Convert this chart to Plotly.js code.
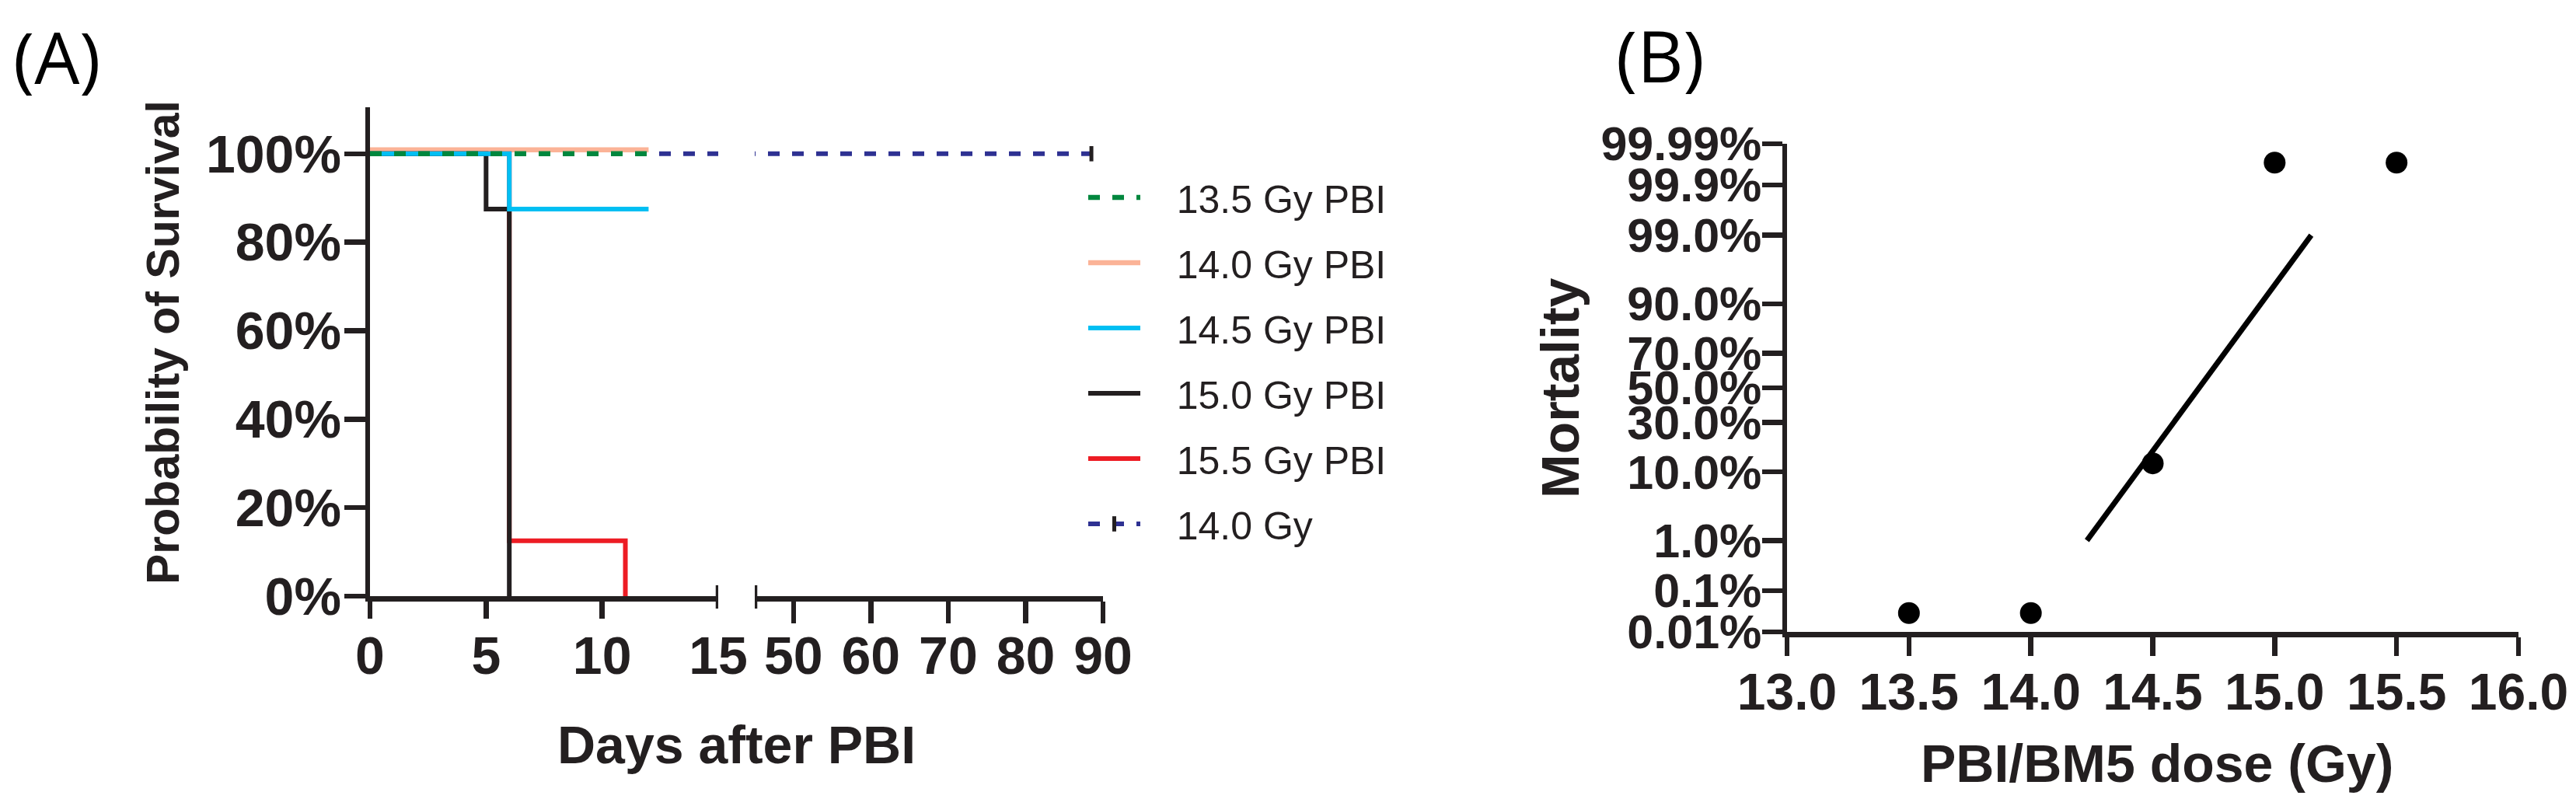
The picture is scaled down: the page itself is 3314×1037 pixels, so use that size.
<!DOCTYPE html>
<html>
<head>
<meta charset="utf-8">
<script src="https://cdn.plot.ly/plotly-3.0.1.min.js"></script>
<style>
    html, body { margin: 0; padding: 0; background: #fff; }
    #chart { width: 3314px; height: 1037px; }
</style>
</head>
<body>
<div id="chart"></div>
<script>
// Panel A: Kaplan-Meier survival after PBI (percent surviving by day)
const days135 = [0, 12];
const surv135 = [100, 100];
const days140 = [0, 12];
const surv140 = [100.9, 100.9];
const days145 = [0, 6, 12];
const surv145 = [100, 87.5, 87.5];
const days150 = [0, 5, 6];
const surv150 = [100, 87.5, 0];
const days155 = [0, 6, 11];
const surv155 = [100, 12.5, 0];
const days140tbi = [0, 88.5];
const surv140tbi = [100, 100];

const seriesNames = ['13.5 Gy PBI', '14.0 Gy PBI', '14.5 Gy PBI', '15.0 Gy PBI', '15.5 Gy PBI', '14.0 Gy'];

const daysTicksLeft = [0, 5, 10, 15];
const daysTickMarksLeft = [0, 5, 10];
const daysTicksRight = [50, 60, 70, 80, 90];
const survTicks = [0, 20, 40, 60, 80, 100];
const survTickText = ['0%', '20%', '40%', '60%', '80%', '100%'];

// Panel B: probit mortality vs dose
const dose = [13.5, 14.0, 14.5, 15.0, 15.5];
const mortality = [0.03, 0.03, 12.5, 99.97, 99.97];
const fitDose = [14.23, 15.15];
const fitMortality = [1.0, 99.0];
const doseTicks = [13.0, 13.5, 14.0, 14.5, 15.0, 15.5, 16.0];
const doseTickText = ['13.0', '13.5', '14.0', '14.5', '15.0', '15.5', '16.0'];
const mortTicks = [0.01, 0.1, 1, 10, 30, 50, 70, 90, 99, 99.9, 99.99];
const mortTickText = ['0.01%', '0.1%', '1.0%', '10.0%', '30.0%', '50.0%', '70.0%', '90.0%', '99.0%', '99.9%', '99.99%'];

// Inverse normal CDF (Acklam) for the probit axis
function probit(p) {
    const a = [-3.969683028665376e+01, 2.209460984245205e+02, -2.759285104469687e+02, 1.383577518672690e+02, -3.066479806614716e+01, 2.506628277459239e+00];
    const b = [-5.447609879822406e+01, 1.615858368580409e+02, -1.556989798598866e+02, 6.680131188771972e+01, -1.328068155288572e+01];
    const c = [-7.784894002430293e-03, -3.223964580411365e-01, -2.400758277161838e+00, -2.549671348193433e+00, 4.374664141464968e+00, 2.938163982698783e+00];
    const d = [7.784695709041462e-03, 3.224671290700398e-01, 2.445134137142996e+00, 3.754408661907416e+00];
    const plow = 0.02425;
    let q, r;
    if (p < plow) {
        q = Math.sqrt(-2 * Math.log(p));
        return (((((c[0] * q + c[1]) * q + c[2]) * q + c[3]) * q + c[4]) * q + c[5]) /
            ((((d[0] * q + d[1]) * q + d[2]) * q + d[3]) * q + 1);
    }
    if (p > 1 - plow) {
        q = Math.sqrt(-2 * Math.log(1 - p));
        return -(((((c[0] * q + c[1]) * q + c[2]) * q + c[3]) * q + c[4]) * q + c[5]) /
            ((((d[0] * q + d[1]) * q + d[2]) * q + d[3]) * q + 1);
    }
    q = p - 0.5;
    r = q * q;
    return (((((a[0] * r + a[1]) * r + a[2]) * r + a[3]) * r + a[4]) * r + a[5]) * q /
        (((((b[0] * r + b[1]) * r + b[2]) * r + b[3]) * r + b[4]) * r + 1);
}
const toProbit = pcts => pcts.map(v => probit(v / 100));

// Pixel -> paper helpers for a 3314x1037 canvas
const W = 3314, H = 1037;
const px = x => x / W;
const py = y => 1 - y / H;

const INK = '#231F20';
const SANS = 'Liberation Sans, Arial, sans-serif';
const boldFont = size => ({ family: SANS, size: size, color: INK, weight: 'bold' });
const DASH = '15px,16px';
const LEGEND_PAD = '\u00A0\u00A0\u00A0';   // gap between legend symbol and text

const data = [
    {   // 14.0 Gy, left segment (under everything)
        x: days140tbi, y: surv140tbi, xaxis: 'x', yaxis: 'y',
        type: 'scatter', mode: 'lines', name: LEGEND_PAD + seriesNames[5],
        line: { color: '#2E3192', width: 6, dash: DASH },
        legendgroup: 'g6', showlegend: false
    },
    {
        x: days140, y: surv140, xaxis: 'x', yaxis: 'y',
        type: 'scatter', mode: 'lines', name: LEGEND_PAD + seriesNames[1],
        line: { color: '#FBB397', width: 6.5, shape: 'hv' },
        legendgroup: 'g2', legendrank: 2
    },
    {
        x: days155, y: surv155, xaxis: 'x', yaxis: 'y',
        type: 'scatter', mode: 'lines', name: LEGEND_PAD + seriesNames[4],
        line: { color: '#ED1C24', width: 6, shape: 'hv' },
        legendgroup: 'g5', legendrank: 5
    },
    {
        x: days150, y: surv150, xaxis: 'x', yaxis: 'y',
        type: 'scatter', mode: 'lines', name: LEGEND_PAD + seriesNames[3],
        line: { color: INK, width: 6, shape: 'hv' },
        legendgroup: 'g4', legendrank: 4
    },
    {
        x: days145, y: surv145, xaxis: 'x', yaxis: 'y',
        type: 'scatter', mode: 'lines', name: LEGEND_PAD + seriesNames[2],
        line: { color: '#00BFF3', width: 6, shape: 'hv' },
        legendgroup: 'g3', legendrank: 3
    },
    {   // on the overlay axis so it sits on top
        x: days135, y: surv135, xaxis: 'x3', yaxis: 'y',
        type: 'scatter', mode: 'lines', name: LEGEND_PAD + seriesNames[0],
        line: { color: '#00873E', width: 6.5, dash: DASH },
        legendgroup: 'g1', legendrank: 1
    },
    {   // 14.0 Gy, right segment with censor tick
        x: days140tbi, y: surv140tbi, xaxis: 'x2', yaxis: 'y',
        type: 'scatter', mode: 'lines+markers', name: LEGEND_PAD + seriesNames[5],
        line: { color: '#2E3192', width: 6, dash: DASH },
        marker: { symbol: 'line-ns', size: 14, color: INK, line: { color: INK, width: 5 } },
        legendgroup: 'g6', legendrank: 6
    },
    {
        x: fitDose, y: toProbit(fitMortality), xaxis: 'x4', yaxis: 'y2',
        type: 'scatter', mode: 'lines',
        line: { color: '#000', width: 7 },
        showlegend: false
    },
    {
        x: dose, y: toProbit(mortality), xaxis: 'x4', yaxis: 'y2',
        type: 'scatter', mode: 'markers',
        marker: { color: '#000', size: 28 },
        showlegend: false
    }
];

const baseAxis = {
    showline: true, linecolor: INK, linewidth: 6.5,
    ticks: 'outside', tickcolor: INK, tickwidth: 6.5,
    showgrid: false, zeroline: false, fixedrange: true
};

const centered = { xref: 'paper', yref: 'paper', xanchor: 'center', yanchor: 'middle', showarrow: false };

const layout = {
    width: W, height: H,
    margin: { t: 0, r: 0, b: 0, l: 0 },
    paper_bgcolor: '#fff',
    plot_bgcolor: 'rgba(0,0,0,0)',
    showlegend: true,
    legend: {
        x: px(1395), y: py(215), xanchor: 'left', yanchor: 'top',
        font: { family: SANS, size: 50, color: INK },
        bgcolor: 'rgba(0,0,0,0)', itemwidth: 67, tracegroupgap: 16
    },
    xaxis: {
        ...baseAxis, domain: [px(476), px(924)], range: [0, 15], anchor: 'y',
        tickmode: 'array', tickvals: daysTicksLeft, ticks: '',
        tickfont: boldFont(68), ticklabelstandoff: 12
    },
    xaxis3: {
        ...baseAxis, overlaying: 'x', anchor: 'y', range: [0, 15], showline: false,
        tickmode: 'array', tickvals: daysTickMarksLeft, ticklen: 28, showticklabels: false
    },
    xaxis2: {
        ...baseAxis, domain: [px(971), px(1419)], range: [45, 90], anchor: 'y',
        tickmode: 'array', tickvals: daysTicksRight, ticklen: 28,
        tickfont: boldFont(68), ticklabelstandoff: -16
    },
    yaxis: {
        ...baseAxis, domain: [py(767), py(138)], range: [0, 110.5], anchor: 'x',
        tickmode: 'array', tickvals: survTicks, ticktext: survTickText, ticklen: 27,
        tickfont: boldFont(68), ticklabelstandoff: -10
    },
    xaxis4: {
        ...baseAxis, domain: [px(2299), px(3240)], range: [13, 16], anchor: 'y2',
        tickmode: 'array', tickvals: doseTicks, ticktext: doseTickText, ticklen: 24,
        tickfont: boldFont(66), ticklabelstandoff: -10
    },
    yaxis2: {
        ...baseAxis, domain: [py(813), py(185)], range: [probit(0.0001), probit(0.9999)], anchor: 'x4',
        tickmode: 'array', tickvals: toProbit(mortTicks), ticktext: mortTickText, ticklen: 26,
        tickfont: boldFont(61), ticklabelstandoff: -12
    },
    shapes: [
        // axis break marks
        { type: 'line', xref: 'x', yref: 'paper', x0: 15, x1: 15, y0: py(783), y1: py(753), line: { color: INK, width: 6.5 } },
        { type: 'line', xref: 'x2', yref: 'paper', x0: 45, x1: 45, y0: py(783), y1: py(753), line: { color: INK, width: 6.5 } }
    ],
    annotations: [
        { ...centered, text: '(A)', x: px(73), y: py(72),
          font: { family: 'Open Sans, sans-serif', size: 92, color: '#000' } },
        { ...centered, text: '(B)', x: px(2136), y: py(71),
          font: { family: 'Open Sans, sans-serif', size: 92, color: '#000' } },
        { ...centered, text: 'Days after PBI', x: px(947), y: py(958), font: boldFont(68) },
        { ...centered, text: 'Probability of Survival', x: px(210), y: py(441), textangle: -90, font: boldFont(59) },
        { ...centered, text: 'PBI/BM5 dose (Gy)', x: px(2775), y: py(982), font: boldFont(68) },
        { ...centered, text: 'Mortality', x: px(2007), y: py(499), textangle: -90, font: boldFont(68) }
    ]
};

const config = { displayModeBar: false, staticPlot: true };

Plotly.newPlot('chart', data, layout, config);
</script>
</body>
</html>
